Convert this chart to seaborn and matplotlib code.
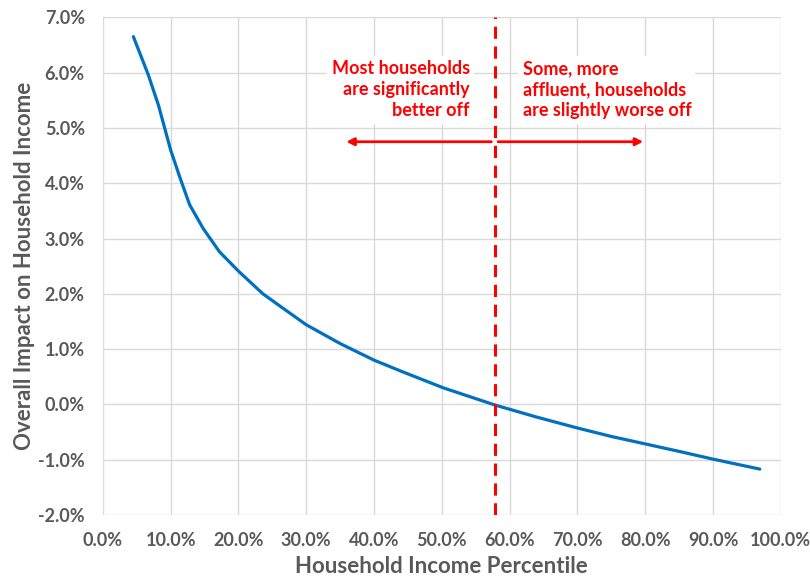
import matplotlib
matplotlib.use("Agg")
import matplotlib.pyplot as plt
import seaborn as sns
import pandas as pd
from matplotlib.ticker import FuncFormatter

# Household income percentile (%) and overall impact on household income (%)
percentile = [4.5, 6.7, 8.2, 10.0, 11.4, 12.8, 14.8, 17.2, 20.0, 23.6,
              26.9, 30.0, 35.0, 40.0, 44.2, 50.2, 57.8, 64.0, 70.1, 75.0,
              80.2, 85.0, 90.0, 96.9]
impact = [6.65, 5.96, 5.41, 4.60, 4.09, 3.61, 3.18, 2.76, 2.41, 2.00,
          1.71, 1.44, 1.10, 0.80, 0.59, 0.30, -0.01, -0.23, -0.43, -0.58,
          -0.72, -0.85, -0.99, -1.17]

breakeven = 57.8
left_note = "Most households\nare significantly\nbetter off"
right_note = "Some, more\naffluent, households\nare slightly worse off"
x_ticks = list(range(0, 101, 10))
y_ticks = list(range(-2, 8))

df = pd.DataFrame({"percentile": percentile, "impact": impact})

sns.set_theme(style="whitegrid")
plt.rcParams["font.family"] = ["Lato", "DejaVu Sans"]

fig = plt.figure(figsize=(8.1, 5.81), dpi=100)
ax = fig.add_axes([0.127, 0.1136, 0.837, 0.8566])

grid_col = "#d9d9d9"
text_col = "#595959"
red = "#ff0000"

sns.lineplot(data=df, x="percentile", y="impact", ax=ax, color="#0070c0",
             linewidth=2.3, zorder=3, solid_joinstyle="round",
             solid_capstyle="round")

ax.set_xlim(0, 100)
ax.set_ylim(-2, 7)
ax.set_xticks(x_ticks)
ax.set_yticks(y_ticks)
ax.xaxis.set_major_formatter(FuncFormatter(lambda v, p: f"{v:.1f}%"))
ax.yaxis.set_major_formatter(FuncFormatter(lambda v, p: f"{v:.1f}%"))
ax.grid(True, color=grid_col, linewidth=1.0)
for s in ax.spines.values():
    s.set_visible(False)
ax.tick_params(axis="x", length=0, labelsize=13, labelcolor=text_col, pad=12)
ax.tick_params(axis="y", length=0, labelsize=13, labelcolor=text_col, pad=13)
for lab in ax.get_xticklabels() + ax.get_yticklabels():
    lab.set_fontweight("bold")

ax.set_xlabel("Household Income Percentile", fontsize=16, fontweight="bold",
              color=text_col, labelpad=5)
ax.set_ylabel("Overall Impact on Household Income", fontsize=16,
              fontweight="bold", color=text_col, labelpad=2)

# Break-even marker
ax.axvline(breakeven, color=red, linestyle=(0, (4, 2.5)), linewidth=2.2, zorder=4)

box = dict(facecolor="white", edgecolor="none", pad=3)
ax.text(54.1, 5.69, left_note, ha="right", va="center", color=red,
        fontsize=13, fontweight="bold", linespacing=1.3, bbox=box, zorder=5)
ax.text(61.9, 5.69, right_note, ha="left", va="center", color=red,
        fontsize=13, fontweight="bold", linespacing=1.3, bbox=box, zorder=5)

arrow = dict(arrowstyle="-|>", color=red, lw=2.0, mutation_scale=11,
             shrinkA=0, shrinkB=0)
ax.annotate("", xy=(35.9, 4.75), xytext=(57.3, 4.75), arrowprops=arrow, zorder=5)
ax.annotate("", xy=(79.7, 4.75), xytext=(58.3, 4.75), arrowprops=arrow, zorder=5)

fig.savefig("out.png", dpi=100)
